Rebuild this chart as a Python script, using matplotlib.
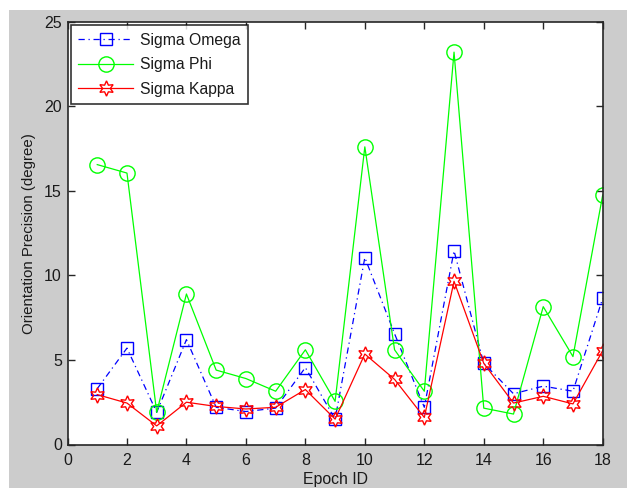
import matplotlib
matplotlib.use("Agg")
import matplotlib.pyplot as plt
from matplotlib.patches import Rectangle

epochs = list(range(1, 19))
sigma_omega = [3.3, 5.7, 1.9, 6.2, 2.2, 1.95, 2.15, 4.55, 1.5, 11.05, 6.55, 2.2, 11.45, 4.8, 3.0, 3.45, 3.15, 8.65]
sigma_phi = [16.55, 16.05, 1.9, 8.9, 4.4, 3.9, 3.15, 5.6, 2.55, 17.6, 5.6, 3.15, 23.2, 2.15, 1.8, 8.15, 5.2, 14.75]
sigma_kappa = [2.95, 2.45, 1.1, 2.5, 2.25, 2.1, 2.2, 3.25, 1.5, 5.35, 3.85, 1.6, 9.65, 4.8, 2.45, 2.85, 2.4, 5.55]

xticks = list(range(0, 19, 2))
yticks = list(range(0, 26, 5))

plt.rcParams['font.family'] = ['Liberation Sans', 'DejaVu Sans']

fig = plt.figure(figsize=(6.27, 4.88), dpi=100)
fig.patch.set_facecolor('white')
fig.patches.append(Rectangle((9 / 627, 0), 1 - 9 / 627, (488 - 10) / 488,
                             transform=fig.transFigure, facecolor='#cccccc',
                             edgecolor='none', zorder=-10))

ax = fig.add_axes([67.5 / 627, (488 - 444.5) / 488, (602.7 - 67.5) / 627, (444.5 - 21.7) / 488])
ax.set_facecolor('white')

hexagram = (6, 1, 0)
ax.plot(epochs, sigma_omega, color='#0000ff', linestyle=(0, (5, 3, 1, 3)), linewidth=0.9,
        marker='s', markersize=9, markerfacecolor='none', markeredgecolor='#0000ff',
        markeredgewidth=1, label='Sigma Omega')
ax.plot(epochs, sigma_phi, color='#00ff00', linestyle='-', linewidth=0.9,
        marker='o', markersize=11, markerfacecolor='none', markeredgecolor='#00ff00',
        markeredgewidth=1, label='Sigma Phi')
ax.plot(epochs, sigma_kappa, color='#ff0000', linestyle='-', linewidth=0.9,
        marker=hexagram, markersize=11, markerfacecolor='none', markeredgecolor='#ff0000',
        markeredgewidth=1, label='Sigma Kappa')

ax.set_xlim(0, 18)
ax.set_ylim(0, 25)
ax.set_xticks(xticks)
ax.set_yticks(yticks)
ax.tick_params(direction='in', length=5, width=1, top=True, right=True,
               labelsize=11.5, colors='#262626')
ax.tick_params(axis='y', pad=4)
ax.tick_params(axis='x', pad=6)
ax.tick_params(labelcolor='#1a1a1a')
for s in ax.spines.values():
    s.set_linewidth(1.2)
    s.set_color('#262626')

ax.set_xlabel('Epoch ID', fontsize=11.4, color='#1a1a1a', labelpad=3)
ax.set_ylabel('Orientation Precision (degree)', fontsize=10.8, color='#1a1a1a', labelpad=6)

leg = ax.legend(loc='upper left', fontsize=11.3, frameon=True, fancybox=False,
                handlelength=3.5, borderaxespad=0.22, borderpad=0.47,
                labelspacing=0.62, handletextpad=0.45)
leg.get_frame().set_edgecolor('#000000')
leg.get_frame().set_linewidth(1.2)
for t in leg.get_texts():
    t.set_color('#1a1a1a')

fig.savefig('out.png', dpi=100, facecolor=fig.get_facecolor())
